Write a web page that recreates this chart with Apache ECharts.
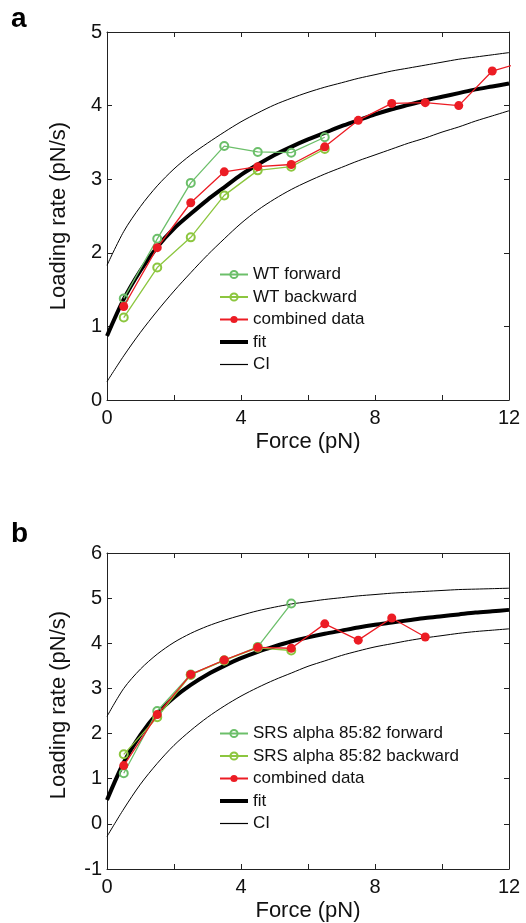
<!DOCTYPE html>
<html>
<head>
<meta charset="utf-8">
<script src="https://cdn.jsdelivr.net/npm/echarts@6/dist/echarts.min.js"></script>
<style>
  html, body { margin: 0; padding: 0; background: #fff; }
  #chart { width: 526px; height: 923px; }
</style>
</head>
<body>
<div id="chart"></div>
<script>
// Force bins (pN) for the measured loading rates
const binsA = [0.5, 1.5, 2.5, 3.5, 4.5, 5.5, 6.5, 7.5, 8.5, 9.5, 10.5, 11.5, 12.5];
const binsB = [0.5, 1.5, 2.5, 3.5, 4.5, 5.5, 6.5, 7.5, 8.5, 9.5];

// Panel a: wild type
const wtForward  = [1.38, 2.19, 2.95, 3.45, 3.37, 3.36, 3.57];
const wtBackward = [1.12, 1.80, 2.21, 2.78, 3.12, 3.17, 3.41];
const combinedA  = [1.27, 2.07, 2.68, 3.10, 3.17, 3.20, 3.44, 3.80, 4.03, 4.04, 4.00, 4.47, 4.60];

// Panel b: SRS alpha 85:82
const srsForward  = [1.12, 2.50, 3.31, 3.62, 3.92, 4.88];
const srsBackward = [1.54, 2.36, 3.30, 3.62, 3.90, 3.84];
const combinedB   = [1.29, 2.42, 3.31, 3.63, 3.91, 3.89, 4.43, 4.07, 4.56, 4.14];

// Fit curve and confidence band, sampled every 0.5 pN
const curveForce = [0, 0.5, 1, 1.5, 2, 2.5, 3, 3.5, 4, 4.5, 5, 5.5, 6, 6.5, 7, 7.5, 8, 8.5, 9, 9.5, 10, 10.5, 11, 11.5, 12];
const fitA     = [0.87, 1.37, 1.76, 2.08, 2.33, 2.53, 2.72, 2.89, 3.06, 3.20, 3.33, 3.44, 3.54, 3.63, 3.72, 3.80, 3.88, 3.95, 4.01, 4.07, 4.12, 4.17, 4.22, 4.26, 4.30];
const ciUpperA = [1.83, 2.29, 2.63, 2.91, 3.14, 3.33, 3.49, 3.64, 3.78, 3.90, 4.01, 4.10, 4.18, 4.25, 4.31, 4.37, 4.42, 4.47, 4.51, 4.55, 4.59, 4.63, 4.66, 4.69, 4.72];
const ciLowerA = [0.25, 0.60, 0.92, 1.21, 1.48, 1.73, 1.97, 2.19, 2.40, 2.58, 2.73, 2.86, 2.97, 3.07, 3.16, 3.25, 3.33, 3.41, 3.49, 3.56, 3.64, 3.71, 3.79, 3.86, 3.93];
const fitB     = [0.53, 1.36, 1.97, 2.45, 2.80, 3.08, 3.31, 3.50, 3.67, 3.81, 3.93, 4.04, 4.13, 4.21, 4.28, 4.35, 4.41, 4.46, 4.51, 4.56, 4.60, 4.64, 4.68, 4.71, 4.74];
const ciUpperB = [2.38, 3.00, 3.43, 3.76, 4.02, 4.22, 4.38, 4.51, 4.62, 4.72, 4.80, 4.87, 4.92, 4.97, 5.01, 5.05, 5.08, 5.11, 5.13, 5.15, 5.17, 5.19, 5.20, 5.21, 5.22];
const ciLowerB = [-0.28, 0.33, 0.88, 1.34, 1.74, 2.07, 2.36, 2.61, 2.83, 3.02, 3.19, 3.34, 3.49, 3.61, 3.73, 3.83, 3.92, 3.99, 4.06, 4.12, 4.17, 4.22, 4.26, 4.29, 4.32];

// Axis ranges and tick labels
const xRange = [0, 12];
const yRangeA = [0, 5];
const yRangeB = [-1, 6];
const xTickLabels = ['0', '4', '8', '12'];

const FONT = '"Liberation Sans", Arial, Helvetica, sans-serif';
const C_FWD = '#6cbf6a';
const C_BWD = '#8cc63f';
const C_RED = '#ec1c24';
const AXIS_COLOR = '#222';

const pair = (xs, ys) => ys.map((y, i) => [xs[i], y]);

function xAxes(gridIndex) {
  const base = {
    type: 'value', gridIndex, min: xRange[0], max: xRange[1], interval: 2,
    axisLine: { show: true, onZero: false, lineStyle: { color: AXIS_COLOR, width: 1 } },
    axisTick: { show: true, inside: true, length: 5, lineStyle: { color: AXIS_COLOR } },
    splitLine: { show: false }
  };
  return [
    Object.assign({}, base, {
      position: 'bottom',
      axisLabel: {
        show: true, margin: 8, color: '#111', fontFamily: FONT, fontSize: 20,
        formatter: v => (xTickLabels.indexOf(String(v)) >= 0 ? String(v) : '')
      },
      name: 'Force (pN)', nameLocation: 'middle', nameGap: 31,
      nameTextStyle: { color: '#111', fontFamily: FONT, fontSize: 22 }
    }),
    Object.assign({}, base, { position: 'top', axisLabel: { show: false } })
  ];
}

function yAxes(gridIndex, range) {
  const base = {
    type: 'value', gridIndex, min: range[0], max: range[1], interval: 1,
    axisLine: { show: true, onZero: false, lineStyle: { color: AXIS_COLOR, width: 1 } },
    axisTick: { show: true, inside: true, length: 5, lineStyle: { color: AXIS_COLOR } },
    splitLine: { show: false }
  };
  return [
    Object.assign({}, base, {
      position: 'left',
      axisLabel: { show: true, margin: 5, color: '#111', fontFamily: FONT, fontSize: 20 }
    }),
    Object.assign({}, base, { position: 'right', axisLabel: { show: false } })
  ];
}

function curve(name, xi, yi, data, width) {
  return {
    name, type: 'line', xAxisIndex: xi, yAxisIndex: yi, data,
    smooth: 0.3, showSymbol: false, symbol: 'none', silent: true,
    lineStyle: { color: '#000', width }, itemStyle: { color: '#000' },
    z: 2
  };
}

function ringSeries(name, xi, yi, data, color) {
  return {
    name, type: 'line', xAxisIndex: xi, yAxisIndex: yi, data,
    symbol: 'circle', symbolSize: 8,
    lineStyle: { color, width: 1.3 },
    itemStyle: { color: 'rgba(255,255,255,0)', borderColor: color, borderWidth: 2 },
    z: 3
  };
}

function dotSeries(name, xi, yi, data) {
  return {
    name, type: 'line', xAxisIndex: xi, yAxisIndex: yi, data,
    symbol: 'circle', symbolSize: 9,
    lineStyle: { color: C_RED, width: 1.3 },
    itemStyle: { color: C_RED, borderWidth: 0 },
    z: 4
  };
}

// Plain line swatches for the curves (no marker)
const fitIcon = 'path://M0,0H28V4H0Z';
const ciIcon = 'path://M0,0H28V1.2H0Z';

function legend(top, names) {
  return {
    orient: 'vertical', left: 214, top, itemGap: 5.5, itemWidth: 28, itemHeight: 9,
    selectedMode: false,
    data: [
      names[0], names[1], names[2],
      { name: 'fit', icon: fitIcon },
      { name: 'CI', icon: ciIcon }
    ],
    textStyle: { color: '#111', fontFamily: FONT, fontSize: 17 }
  };
}

const chart = echarts.init(document.getElementById('chart'), null, { renderer: 'canvas' });

chart.setOption({
  animation: false,
  backgroundColor: '#fff',
  grid: [
    { left: 107, top: 32, width: 402, height: 368 },
    { left: 107, top: 553, width: 402, height: 316 }
  ],
  xAxis: [...xAxes(0), ...xAxes(1)],
  yAxis: [...yAxes(0, yRangeA), ...yAxes(1, yRangeB)],
  legend: [
    legend(261, ['WT forward', 'WT backward', 'combined data']),
    legend(720, ['SRS alpha 85:82 forward', 'SRS alpha 85:82 backward', 'combined data'])
  ],
  graphic: [
    { type: 'text', left: 11, top: 5, style: { text: 'a', font: 'bold 28px ' + FONT, fill: '#000' } },
    { type: 'text', left: 11, top: 520, style: { text: 'b', font: 'bold 28px ' + FONT, fill: '#000' } },
    { type: 'text', x: 59, y: 216, rotation: Math.PI / 2,
      style: { text: 'Loading rate (pN/s)', font: '22px ' + FONT, fill: '#111', align: 'center', verticalAlign: 'middle' } },
    { type: 'text', x: 59, y: 705, rotation: Math.PI / 2,
      style: { text: 'Loading rate (pN/s)', font: '22px ' + FONT, fill: '#111', align: 'center', verticalAlign: 'middle' } }
  ],
  series: [
    // panel a
    curve('CI', 0, 0, pair(curveForce, ciUpperA), 1),
    curve('CI', 0, 0, pair(curveForce, ciLowerA), 1),
    curve('fit', 0, 0, pair(curveForce, fitA), 4),
    ringSeries('WT forward', 0, 0, pair(binsA, wtForward), C_FWD),
    ringSeries('WT backward', 0, 0, pair(binsA, wtBackward), C_BWD),
    dotSeries('combined data', 0, 0, pair(binsA, combinedA)),
    // panel b
    curve('CI', 2, 2, pair(curveForce, ciUpperB), 1),
    curve('CI', 2, 2, pair(curveForce, ciLowerB), 1),
    curve('fit', 2, 2, pair(curveForce, fitB), 4),
    ringSeries('SRS alpha 85:82 forward', 2, 2, pair(binsB, srsForward), C_FWD),
    ringSeries('SRS alpha 85:82 backward', 2, 2, pair(binsB, srsBackward), C_BWD),
    dotSeries('combined data', 2, 2, pair(binsB, combinedB))
  ]
});
</script>
</body>
</html>
